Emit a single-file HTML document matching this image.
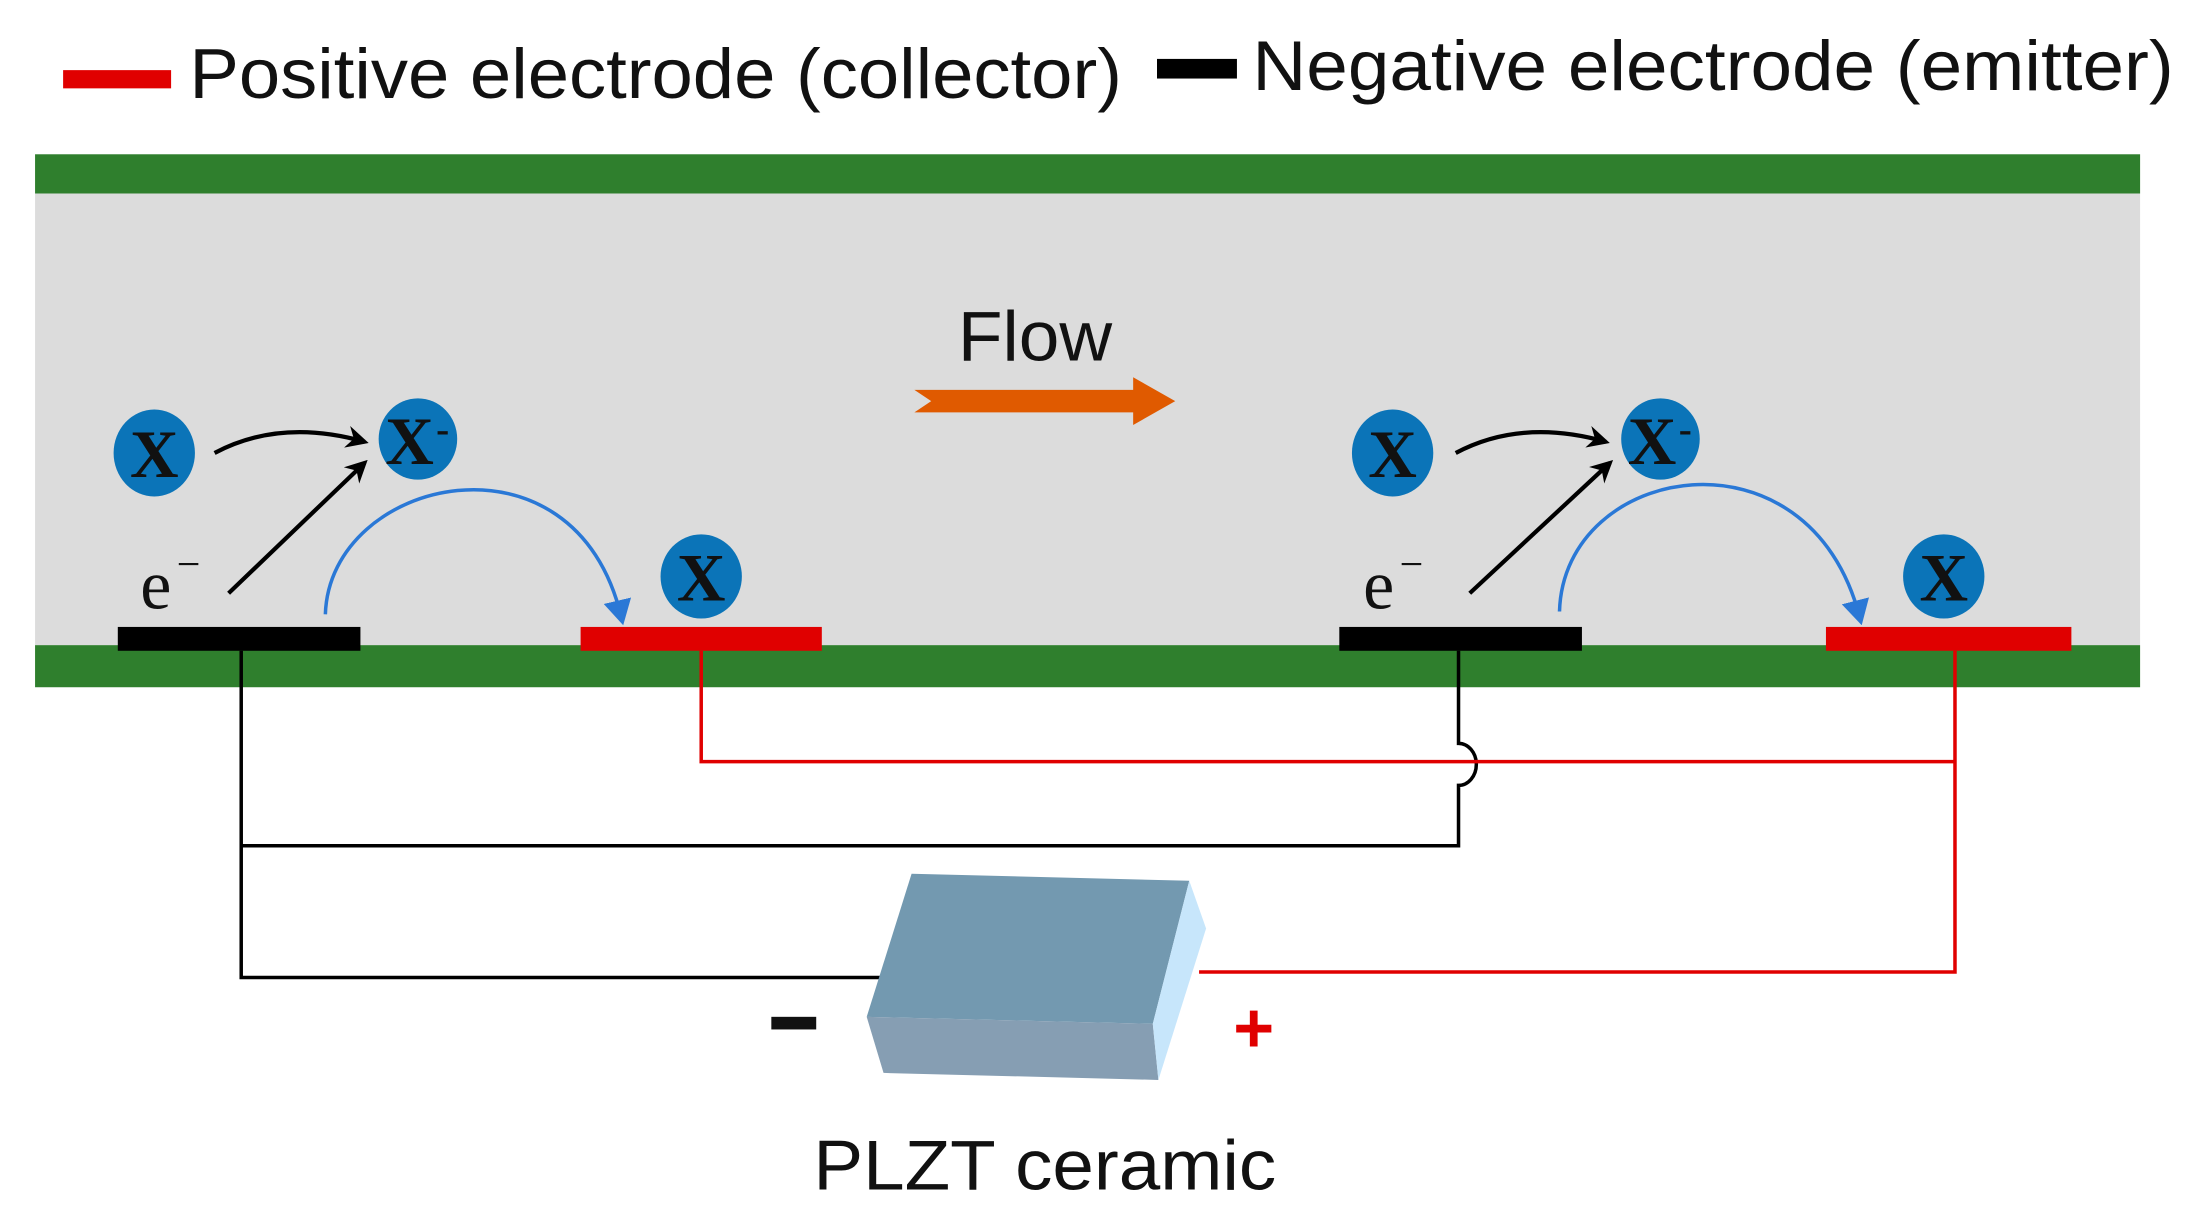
<!DOCTYPE html>
<html><head><meta charset="utf-8"><style>html,body{margin:0;padding:0;background:#fff}svg{display:block}</style></head>
<body>
<svg width="2199" height="1223" viewBox="0 0 1568 872" preserveAspectRatio="none" xmlns="http://www.w3.org/2000/svg">
<defs>
<marker id="ab" markerWidth="16" markerHeight="16" refX="13" refY="8" orient="auto" markerUnits="userSpaceOnUse"><path d="M0,0 L16,8 L0,16 L5,8 Z" fill="#000"/></marker>
<marker id="ablue" markerWidth="18" markerHeight="20" refX="12" refY="10" orient="auto" markerUnits="userSpaceOnUse"><path d="M0,0 L18,10 L0,20 Z" fill="#2a78d6"/></marker>
</defs>
<rect width="1568" height="872" fill="#fff"/>
<rect x="45" y="50" width="77" height="13" fill="#e00000"/>
<text x="135" y="70" font-family="Liberation Sans, sans-serif" font-size="50" textLength="665" lengthAdjust="spacingAndGlyphs" fill="#111">Positive electrode (collector)</text>
<rect x="825" y="42" width="57" height="14" fill="#000"/>
<text x="893" y="64" font-family="Liberation Sans, sans-serif" font-size="50" textLength="657" lengthAdjust="spacingAndGlyphs" fill="#111">Negative electrode (emitter)</text>
<rect x="25" y="110" width="1501" height="28" fill="#2f7f2d"/>
<rect x="25" y="138" width="1501" height="322" fill="#dcdcdc"/>
<rect x="25" y="460" width="1501" height="30" fill="#2f7f2d"/>
<g fill="none" stroke-width="2.5">
<path d="M172,464 V697 H628" stroke="#000"/>
<path d="M172,603 H1040 V560 A11,13 0 0 0 1040,530 V464" stroke="#000"/>
<path d="M500,464 V543 H1394" stroke="#e00000"/>
<path d="M1394,464 V693 H855" stroke="#e00000"/>
</g>
<rect x="84" y="447" width="173" height="17" fill="#000"/>
<rect x="414" y="447" width="172" height="17" fill="#e00000"/>
<rect x="955" y="447" width="173" height="17" fill="#000"/>
<rect x="1302" y="447" width="175" height="17" fill="#e00000"/>
<text x="683" y="257" font-family="Liberation Sans, sans-serif" font-size="50" textLength="110" lengthAdjust="spacingAndGlyphs" fill="#111">Flow</text>
<path d="M652,278 H808 V269 L838,286 L808,303 V294 H652 L664,286 Z" fill="#e05a00"/>
<g font-family="Liberation Serif, serif" font-weight="bold" font-size="48" fill="#111">
<ellipse cx="110" cy="323" rx="29" ry="31" fill="#0b74b8"/>
<text x="110" y="340" text-anchor="middle">X</text>
<ellipse cx="298" cy="313" rx="28" ry="29" fill="#0b74b8"/>
<text x="292" y="331" text-anchor="middle">X</text><text x="311" y="315" font-size="28">-</text>
<ellipse cx="500" cy="411" rx="29" ry="30" fill="#0b74b8"/>
<text x="500" y="428" text-anchor="middle">X</text>
<ellipse cx="993" cy="323" rx="29" ry="31" fill="#0b74b8"/>
<text x="993" y="340" text-anchor="middle">X</text>
<ellipse cx="1184" cy="313" rx="28" ry="29" fill="#0b74b8"/>
<text x="1178" y="331" text-anchor="middle">X</text><text x="1197" y="315" font-size="28">-</text>
<ellipse cx="1386" cy="411" rx="29" ry="30" fill="#0b74b8"/>
<text x="1386" y="428" text-anchor="middle">X</text>
</g>
<g font-family="Liberation Serif, serif" font-size="50" fill="#111">
<text x="100" y="434">e</text><text x="126" y="412" font-size="30">−</text>
<text x="972" y="434">e</text><text x="998" y="412" font-size="30">−</text>
</g>
<g fill="none" stroke="#000" stroke-width="3">
<path d="M153,323 Q200,298 260,315" marker-end="url(#ab)"/>
<path d="M163,423 L260,330" marker-end="url(#ab)"/>
<path d="M1038,323 Q1085,298 1145,315" marker-end="url(#ab)"/>
<path d="M1048,423 L1148,330" marker-end="url(#ab)"/>
</g>
<g fill="none" stroke="#2a78d6" stroke-width="2.5">
<path d="M232,438 C235,340 410,300 443,440" marker-end="url(#ablue)"/>
<path d="M1112,436 C1115,330 1290,300 1326,440" marker-end="url(#ablue)"/>
</g>
<polygon points="650,623 848,628 822,730 618,725" fill="#7399b0"/>
<polygon points="618,725 822,730 826,770 630,765" fill="#869eb3"/>
<polygon points="848,628 860,662 826,770 822,730" fill="#c7e6fb"/>
<rect x="550" y="725" width="32" height="9" fill="#111"/>
<text x="894" y="750" font-family="Liberation Sans, sans-serif" font-weight="bold" font-size="50" fill="#e00000" text-anchor="middle">+</text>
<text x="745" y="848" font-family="Liberation Sans, sans-serif" font-size="50" text-anchor="middle" textLength="330" lengthAdjust="spacingAndGlyphs" fill="#111">PLZT ceramic</text>
</svg>
</body></html>
